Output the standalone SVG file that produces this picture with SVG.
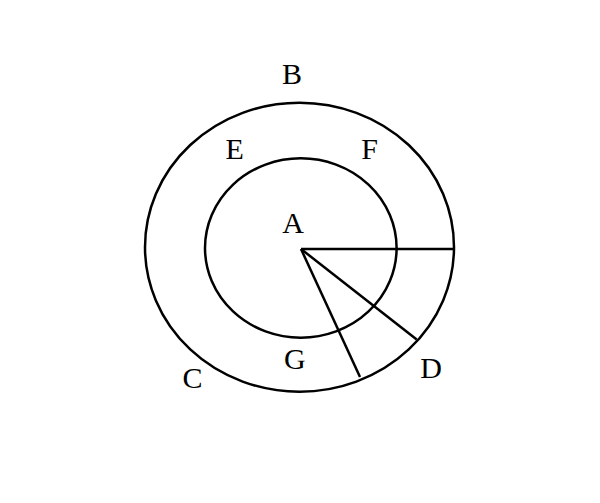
<svg xmlns="http://www.w3.org/2000/svg" width="600" height="503" viewBox="0 0 600 503">
<style>
.s{fill:none;stroke:#000;stroke-width:2.5}
text{font-family:"Liberation Serif","DejaVu Serif",serif;font-size:30px;fill:#000;text-anchor:middle}
</style>
<rect width="600" height="503" fill="#fff"/>
<g id="outer"><ellipse class="s" cx="299.5" cy="247.2" rx="154.5" ry="144.5"/></g>
<g id="inner"><ellipse class="s" cx="300.8" cy="248" rx="95.8" ry="89.7"/></g>
<g id="connectors">
<line class="s" x1="301" y1="249" x2="454" y2="249"/>
<line class="s" x1="301" y1="249" x2="416.7" y2="339.5"/>
<line class="s" x1="301" y1="249" x2="360" y2="377"/>
</g>
<g id="labels">
<text x="292" y="84.3">B</text>
<text x="234.7" y="159.3">E</text>
<text x="369.5" y="159.3">F</text>
<text x="293" y="233">A</text>
<text x="294.8" y="369">G</text>
<text x="192.5" y="388">C</text>
<text x="431" y="378.3">D</text>
</g>
</svg>
